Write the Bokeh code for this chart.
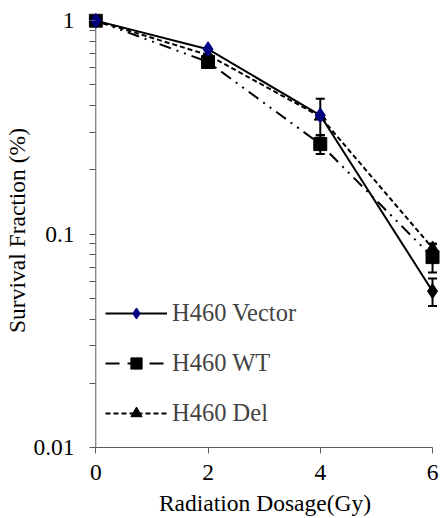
from bokeh.plotting import figure
from bokeh.models import (FixedTicker, CustomJSTickFormatter, Legend, LegendItem,
                          Whisker, ColumnDataSource, Range1d, TeeHead)
from bokeh.embed import file_html
from bokeh.resources import INLINE

dose = [0, 2, 4, 6]
vector = [1.0, 0.735, 0.36, 0.054]
vector_err = [0.0, 0.0, 0.07, 0.008]
vector_colors = ["#000080", "#000080", "#000080", "#000000"]
wt = [1.0, 0.64, 0.264, 0.078]
wt_err = [0.0, 0.0, 0.027, 0.012]
dele = [1.0, 0.69, 0.355, 0.086]
dele_err = [0.0, 0.0, 0.0, 0.004]
series_names = ["H460 Vector", "H460 WT", "H460 Del"]
y_ticks = [0.01, 0.1, 1]
x_ticks = [0, 2, 4, 6]

FONT = "'Liberation Serif', 'Times New Roman', serif"
AX = "#5a5a5a"

p = figure(width=441, height=518, y_axis_type="log",
           x_range=Range1d(-0.13, 6.16), y_range=Range1d(0.01, 1.08),
           output_backend="svg", toolbar_location=None,
           min_border_left=88, min_border_right=0, min_border_top=13,
           min_border_bottom=71)
p.outline_line_color = None
p.xgrid.visible = False
p.ygrid.visible = False
p.background_fill_color = "white"

minor = []
for d in [0.01, 0.1]:
    for k in range(2, 10):
        minor.append(round(d * k, 4))
p.yaxis.ticker = FixedTicker(ticks=y_ticks, minor_ticks=minor)
p.yaxis.formatter = CustomJSTickFormatter(code="""
const m = {0.01: "0.01", 0.1: "0.1", 1: "1"};
return m[tick] !== undefined ? m[tick] : tick.toString();
""")
p.xaxis.ticker = FixedTicker(ticks=x_ticks)
p.xaxis.bounds = (0, 6)
p.yaxis.bounds = (0.01, 1)

for ax in (p.xaxis, p.yaxis):
    ax.axis_line_color = AX
    ax.major_tick_line_color = AX
    ax.minor_tick_line_color = AX
    ax.major_label_text_font = FONT
    ax.major_label_text_font_size = "23.5px"
    ax.major_label_text_color = "black"
    ax.axis_label_text_font = FONT
    ax.axis_label_text_font_size = "23.5px"
    ax.axis_label_text_font_style = "normal"
    ax.axis_label_text_color = "black"
p.xaxis.major_tick_in = 0
p.xaxis.major_tick_out = 6
p.xaxis.minor_tick_line_color = None
# y axis: ticks sit just left of x = 0, where the axis line is drawn below
p.yaxis.axis_line_color = None
p.yaxis.major_tick_in = 7
p.yaxis.major_tick_out = -1
p.yaxis.minor_tick_in = 7
p.yaxis.minor_tick_out = -1
p.xaxis.axis_label = "Radiation Dosage(Gy)"
p.yaxis.axis_label = "Survival Fraction (%)"
p.xaxis.major_label_standoff = 11
p.xaxis.axis_label_standoff = 7
p.yaxis.major_label_standoff = 15
p.yaxis.axis_label_standoff = 0

# y axis line at x = 0
p.segment(x0=[x_ticks[0]], y0=[y_ticks[0]], x1=[x_ticks[0]], y1=[y_ticks[-1]],
          line_color=AX, line_width=1)

src_v = ColumnDataSource(dict(x=dose, y=vector,
                              lo=[v - e for v, e in zip(vector, vector_err)],
                              hi=[v + e for v, e in zip(vector, vector_err)],
                              c=vector_colors))
src_w = ColumnDataSource(dict(x=dose, y=wt,
                              lo=[v - e for v, e in zip(wt, wt_err)],
                              hi=[v + e for v, e in zip(wt, wt_err)]))
src_d = ColumnDataSource(dict(x=dose, y=dele,
                              lo=[v - e for v, e in zip(dele, dele_err)],
                              hi=[v + e for v, e in zip(dele, dele_err)]))

for src in (src_v, src_w, src_d):
    w = Whisker(source=src, base="x", upper="hi", lower="lo",
                line_color="black", line_width=2,
                upper_head=TeeHead(size=9, line_color="black", line_width=2),
                lower_head=TeeHead(size=9, line_color="black", line_width=2))
    p.add_layout(w)

lv = p.line("x", "y", source=src_v, line_color="black", line_width=2)
lw = p.line("x", "y", source=src_w, line_color="black", line_width=2,
            line_dash="12 6 2 6 2 6")
ld = p.line("x", "y", source=src_d, line_color="black", line_width=2,
            line_dash="5 3")
md = p.scatter("x", "y", source=src_d, marker="triangle", size=12,
               fill_color="black", line_color="black")
mw = p.scatter("x", "y", source=src_w, marker="square", size=13,
               fill_color="black", line_color="black")
mv = p.scatter("x", "y", source=src_v, marker="diamond", size=15,
               fill_color="c", line_color="c")

nan = float("nan")
lw_leg = p.line([nan], [nan], line_color="black", line_width=2, line_dash="14 8")
ld_leg = p.line([nan], [nan], line_color="black", line_width=2, line_dash="5 3")
mv_leg = p.scatter([nan], [nan], marker="diamond", size=15,
                   fill_color="#000080", line_color="#000080")

legend = Legend(items=[
    LegendItem(label=series_names[0], renderers=[lv, mv_leg]),
    LegendItem(label=series_names[1], renderers=[lw_leg, mw]),
    LegendItem(label=series_names[2], renderers=[ld_leg, md]),
], location=(17, 20), orientation="vertical",
    label_text_font=FONT, label_text_font_size="24.5px",
    glyph_width=62, glyph_height=28, label_height=28, spacing=22,
    label_standoff=5, padding=15, margin=0,
    border_line_color=None, background_fill_color="white",
    background_fill_alpha=1.0)
p.add_layout(legend, "center")

open("out.html", "w").write(file_html(p, INLINE))
